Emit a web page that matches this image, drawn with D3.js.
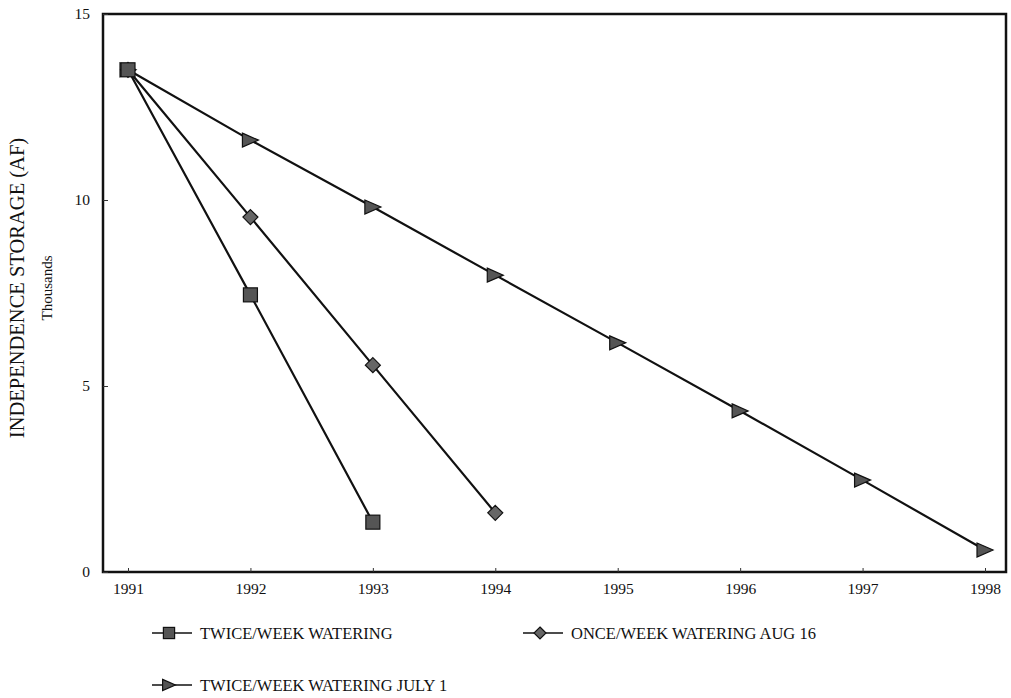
<!DOCTYPE html>
<html><head><meta charset="utf-8">
<script src="https://cdn.jsdelivr.net/npm/d3@7"></script>
<style>body{margin:0;background:#fff;}svg{display:block;}text{font-family:"Liberation Serif","DejaVu Serif",serif;fill:#111;}</style>
</head><body><svg id="c" width="1011" height="698"></svg>
<script>
const years = [1991,1992,1993,1994,1995,1996,1997,1998];
const yTicks = [0,5,10,15];
const seriesNames = ["TWICE/WEEK WATERING","ONCE/WEEK WATERING AUG 16","TWICE/WEEK WATERING JULY 1"];
const twiceWeek = [13.5, 7.45, 1.34];
const onceWeekAug16 = [13.5, 9.54, 5.56, 1.59];
const twiceWeekJuly1 = [13.5, 11.61, 9.81, 7.98, 6.16, 4.33, 2.47, 0.59];
const yTitle = "INDEPENDENCE STORAGE (AF)";
const ySub = "Thousands";

const svg = d3.select("#c");
const L=103, T=14, R=1006, B=572;
const x = d3.scaleLinear().domain([1991,1998]).range([128,985]);
const y = d3.scaleLinear().domain([0,15]).range([B,T]);

// frame
svg.append("rect").attr("x",L).attr("y",T).attr("width",R-L).attr("height",B-T)
  .attr("fill","none").attr("stroke","#111").attr("stroke-width",2.5);

// x axis
const xa = svg.append("g").attr("transform",`translate(0,${B})`)
  .call(d3.axisBottom(x).tickValues(years).tickFormat(d3.format("d")).tickSizeInner(-4).tickSizeOuter(0).tickPadding(11));
xa.select(".domain").remove();
xa.selectAll("line").attr("stroke","#333");
xa.selectAll("text").style("font-size","15.5px").style("font-family","'Liberation Serif',serif");

// y axis
const ya = svg.append("g").attr("transform",`translate(${L},0)`)
  .call(d3.axisLeft(y).tickValues(yTicks).tickSizeInner(-5).tickSizeOuter(0).tickPadding(13));
ya.select(".domain").remove();
ya.selectAll("line").attr("stroke","#333");
ya.selectAll("text").style("font-size","15.5px").style("font-family","'Liberation Serif',serif");

// y titles
svg.append("text").attr("transform","translate(24,288) rotate(-90)").attr("text-anchor","middle")
  .style("font-size","20.5px").text(yTitle);
svg.append("text").attr("transform","translate(52,288) rotate(-90)").attr("text-anchor","middle")
  .style("font-size","15px").text(ySub);

const line = d3.line().x((d,i)=>x(years[i])).y(d=>y(d));
const allSeries = [twiceWeek, onceWeekAug16, twiceWeekJuly1];
const shapes = ["square","diamond","triangle"];

function marker(g, shape, cx, cy, s){
  s = s || 1;
  if(shape==="square"){
    const h=7*s;
    g.append("rect").attr("x",cx-h).attr("y",cy-h).attr("width",2*h).attr("height",2*h)
      .attr("fill","#555").attr("stroke","#111").attr("stroke-width",1.2);
  } else if(shape==="diamond"){
    const h=7.5*s;
    g.append("path").attr("d",`M${cx},${cy-h}L${cx+h},${cy}L${cx},${cy+h}L${cx-h},${cy}Z`)
      .attr("fill","#666").attr("stroke","#111").attr("stroke-width",1.2);
  } else {
    const w=8*s, h=7*s;
    g.append("path").attr("d",`M${cx-w},${cy-h}L${cx+w},${cy}L${cx-w},${cy+h}Z`)
      .attr("fill","#555").attr("stroke","#111").attr("stroke-width",1.2);
  }
}

[2,1,0].forEach(k=>{
  const s = allSeries[k];
  svg.append("path").datum(s).attr("d",line).attr("fill","none").attr("stroke","#111").attr("stroke-width",2.2);
});
[2,1,0].forEach(k=>{
  const s = allSeries[k];
  const g = svg.append("g");
  s.forEach((v,i)=>marker(g, shapes[k], x(years[i]), y(v)));
});

// legend
const legPos = [[152,633],[523,633],[152,685]];
seriesNames.forEach((n,k)=>{
  const [lx,ly] = legPos[k];
  svg.append("line").attr("x1",lx).attr("x2",lx+40).attr("y1",ly).attr("y2",ly).attr("stroke","#111").attr("stroke-width",1.6);
  marker(svg.append("g"), shapes[k], lx+17, ly, 0.8);
  svg.append("text").attr("x",lx+48).attr("y",ly+5.5).style("font-size","16.5px").text(n);
});
</script></body></html>
